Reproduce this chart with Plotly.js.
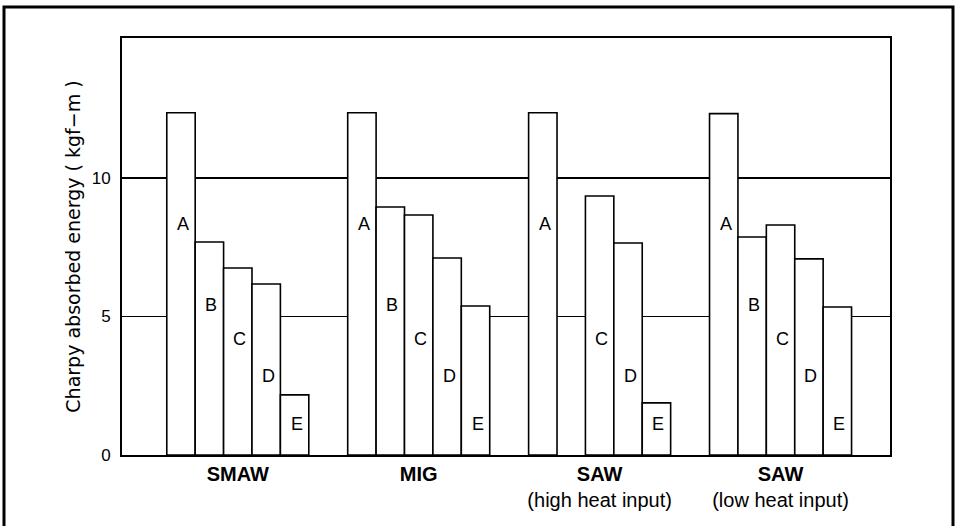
<!DOCTYPE html>
<html>
<head>
<meta charset="utf-8">
<script src="https://cdn.plot.ly/plotly-3.0.1.min.js"></script>
<style>
  html, body { margin: 0; padding: 0; background: #fff; }
  #chart { width: 958px; height: 526px; }
</style>
</head>
<body>
<div id="chart"></div>
<script>
// ---- data ----
const processes = ["SMAW", "MIG", "SAW", "SAW"];
const processNotes = ["", "", "(high heat input)", "(low heat input)"];
const seriesNames = ["A", "B", "C", "D", "E"];
const valuesA = [12.35, 12.35, 12.35, 12.32];
const valuesB = [7.69, 8.95, null, 7.87];
const valuesC = [6.75, 8.66, 9.35, 8.30];
const valuesD = [6.17, 7.11, 7.65, 7.08];
const valuesE = [2.17, 5.38, 1.88, 5.34];
const yTickVals = [0, 5, 10];
const yTickText = ["0", "5", "10"];

// ---- layout helpers (not data) ----
const allValues = [valuesA, valuesB, valuesC, valuesD, valuesE];
const letterHeights = [8.33, 5.43, 4.17, 2.86, 1.12];
const bargap = 0.215;
const groupW = 1 - bargap;
const barW = groupW / seriesNames.length;
const xIdx = processes.map((_, i) => i);

const traces = seriesNames.map((name, s) => ({
  type: "bar",
  name: name,
  x: xIdx,
  y: allValues[s],
  marker: { color: "#ffffff", line: { color: "#000000", width: 1.6 } },
  hoverinfo: "x+y+name",
  showlegend: false
}));

const annotations = [];
seriesNames.forEach((name, s) => {
  allValues[s].forEach((v, g) => {
    if (v === null) return;
    annotations.push({
      x: g - groupW / 2 + barW * (s + 0.5),
      y: letterHeights[s],
      xref: "x", yref: "y",
      text: name,
      showarrow: false,
      xshift: 2,
      font: { family: "Liberation Sans, Arial, sans-serif", size: 18, color: "#000" }
    });
  });
});

const tickText = processes.map((p, i) =>
  processNotes[i] ? "<b>" + p + "</b><br>" + processNotes[i] : "<b>" + p + "</b>");

const layout = {
  width: 958, height: 526,
  margin: { l: 122, r: 68, t: 38, b: 71 },
  paper_bgcolor: "#ffffff",
  plot_bgcolor: "#ffffff",
  barmode: "group",
  bargap: bargap,
  bargroupgap: 0,
  xaxis: {
    range: [-0.64, 3.605],
    tickvals: xIdx,
    ticktext: tickText,
    ticks: "",
    showgrid: false,
    zeroline: false,
    showline: true, mirror: true, linecolor: "#000", linewidth: 2,
    tickfont: { family: "Liberation Sans, Arial, sans-serif", size: 20, color: "#000" },
    ticklabelstandoff: 0,
    fixedrange: true
  },
  yaxis: {
    range: [0, 15.05],
    tickvals: yTickVals,
    ticktext: yTickText,
    ticks: "",
    showgrid: true, gridcolor: "#000", gridwidth: 1.6,
    zeroline: false,
    showline: true, mirror: true, linecolor: "#000", linewidth: 2,
    tickfont: { family: "Liberation Sans, Arial, sans-serif", size: 17, color: "#000" },
    ticklabelstandoff: 6,
    title: {
      text: "Charpy absorbed energy ( kgf\u2212m )",
      font: { family: "DejaVu Sans, sans-serif", size: 19, color: "#000" },
      standoff: 6
    },
    fixedrange: true
  },
  annotations: annotations,
  shapes: [{
    type: "rect", xref: "paper", yref: "paper",
    x0: (4 - 122) / 768, x1: (953 - 122) / 768,
    y0: (455 - 540) / 417, y1: (455 - 7) / 417,
    line: { color: "#000", width: 3 },
    fillcolor: "rgba(0,0,0,0)",
    layer: "above"
  }]
};

Plotly.newPlot("chart", traces, layout, { displayModeBar: false, staticPlot: true });
</script>
</body>
</html>
